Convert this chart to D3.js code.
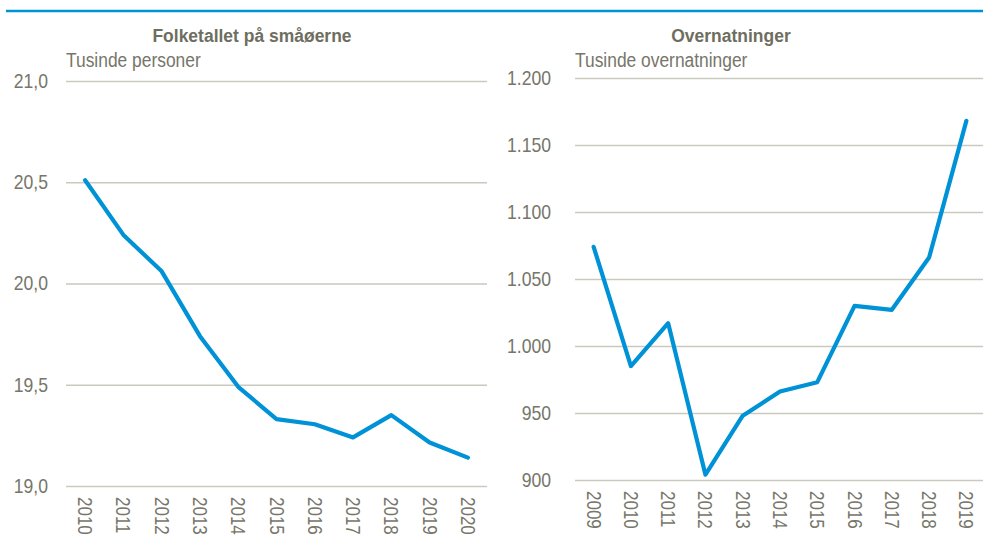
<!DOCTYPE html>
<html>
<head>
<meta charset="utf-8">
<script src="https://cdn.jsdelivr.net/npm/d3@7"></script>
<style>
  body { margin: 0; background: #fff; }
  svg { display: block; }
  text { font-family: "Liberation Sans", Arial, sans-serif; }
</style>
</head>
<body>
<svg id="main"></svg>
<script>
// left panel: population on the small islands (thousands)
let popYears = ["2010", "2011", "2012", "2013", "2014", "2015", "2016", "2017", "2018", "2019", "2020"];
let popValues = [20.51, 20.24, 20.06, 19.74, 19.49, 19.33, 19.305, 19.24, 19.35, 19.215, 19.14];
let popTicks = [19.0, 19.5, 20.0, 20.5, 21.0];

// right panel: overnight stays (thousands)
let stayYears = ["2009", "2010", "2011", "2012", "2013", "2014", "2015", "2016", "2017", "2018", "2019"];
let stayValues = [1074, 985, 1017, 904, 948, 966, 973, 1030, 1027, 1066, 1168];
let stayTicks = [900, 950, 1000, 1050, 1100, 1150, 1200];

const W = 983, H = 548;
const textCol = "#76766a";
const gridCol = "#c9c9bd";
const lineCol = "#0092d6";

const dk = d3.formatLocale({decimal: ",", thousands: ".", grouping: [3], currency: ["", " kr."]});

var svg = d3.select("#main").attr("width", W).attr("height", H);

// blue rule under the (cut off) heading
svg.append("line")
    .attr("x1", 6).attr("x2", W)
    .attr("y1", 11).attr("y2", 11)
    .attr("stroke", lineCol).attr("stroke-width", 2.5);

/**
* @desc draw one small line chart panel
*/
const drawPanel = (opt) => {
    var g = svg.append("g");

    var x = d3.scaleBand()
        .domain(opt.cats)
        .range([opt.x0, opt.x1]);

    var y = d3.scaleLinear()
        .domain(opt.domain)
        .range([opt.y1, opt.y0]);

    // title + unit (text squeezed a bit, the original font is narrow)
    g.append("text")
        .attr("transform", "translate(" + opt.titleX + ",42) scale(0.92,1)")
        .attr("text-anchor", "middle")
        .attr("font-weight", "bold")
        .attr("font-size", 19)
        .attr("fill", "#6e6e60")
        .text(opt.title);

    g.append("text")
        .attr("transform", "translate(" + opt.x0 + ",67) scale(0.87,1)")
        .attr("font-size", 20)
        .attr("fill", textCol)
        .text(opt.unit);

    // y axis with gridlines
    var yAxis = g.append("g")
        .attr("transform", "translate(" + opt.x0 + ",0)")
        .call(d3.axisLeft(y)
            .tickValues(opt.ticks)
            .tickSize(-(opt.x1 - opt.x0))
            .tickFormat(dk.format(opt.fmt)));
    yAxis.select(".domain").remove();
    yAxis.selectAll(".tick line").attr("stroke", gridCol).attr("stroke-width", 1.3);
    yAxis.selectAll(".tick text")
        .attr("x", 0)
        .attr("transform", "translate(" + (-opt.pad) + ",0) scale(0.88,1)")
        .attr("font-size", 20)
        .attr("font-family", null)
        .attr("fill", textCol);

    // x axis, labels rotated
    var xAxis = g.append("g")
        .attr("transform", "translate(0," + opt.y1 + ")")
        .call(d3.axisBottom(x).tickSize(0).tickPadding(0));
    xAxis.select(".domain").remove();
    xAxis.selectAll(".tick text")
        .attr("font-size", 20)
        .attr("font-family", null)
        .attr("fill", textCol)
        .attr("text-anchor", "start")
        .attr("dy", null)
        .attr("transform", "translate(-7,11) rotate(90) scale(0.85,1)");

    // line
    var line = d3.line()
        .x(function(d, i) { return x(opt.cats[i]) + x.bandwidth() / 2; })
        .y(function(d) { return y(d); });

    g.append("path")
        .datum(opt.values)
        .attr("fill", "none")
        .attr("stroke", lineCol)
        .attr("stroke-width", 4.2)
        .attr("stroke-linejoin", "round")
        .attr("stroke-linecap", "round")
        .attr("d", line);
};

drawPanel({
    cats: popYears, values: popValues, ticks: popTicks,
    domain: [19.0, 21.0], fmt: ".1f", pad: 18,
    x0: 66, x1: 487, y0: 81, y1: 486,
    titleX: 252, title: "Folketallet på småøerne", unit: "Tusinde personer"
});

drawPanel({
    cats: stayYears, values: stayValues, ticks: stayTicks,
    domain: [900, 1200], fmt: ",.0f", pad: 24,
    x0: 575, x1: 985, y0: 78, y1: 480,
    titleX: 731, title: "Overnatninger", unit: "Tusinde overnatninger"
});
</script>
</body>
</html>
